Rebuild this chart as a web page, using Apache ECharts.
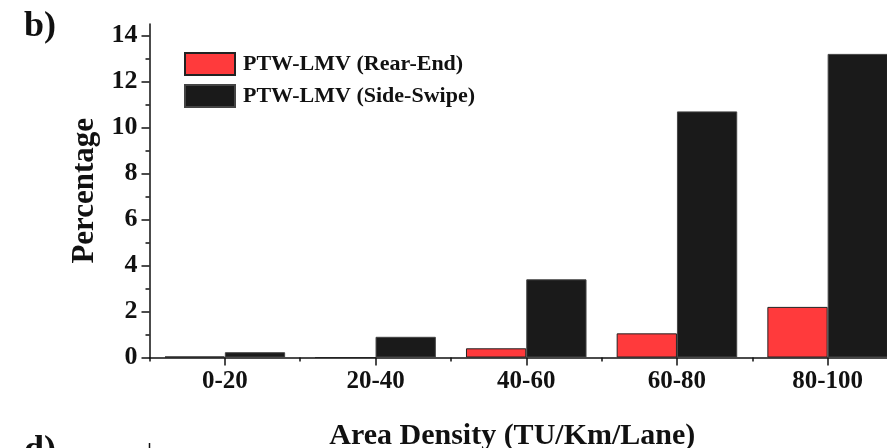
<!DOCTYPE html>
<html>
<head>
<meta charset="utf-8">
<script src="https://cdn.jsdelivr.net/npm/echarts@6/dist/echarts.min.js"></script>
<style>
  html, body { margin: 0; padding: 0; background: #fff; }
  #chart { width: 887px; height: 448px; }
</style>
</head>
<body>
<div id="chart"></div>
<script>
// Area density bins (TU/Km/Lane)
const categories = ['0-20', '20-40', '40-60', '60-80', '80-100'];
// Conflict share (%) for powered two-wheeler vs light motor vehicle interactions
const rearEnd = [0.04, 0, 0.4, 1.05, 2.2];
const sideSwipe = [0.23, 0.9, 3.4, 10.7, 13.2];
// Y-axis labelled ticks and intermediate minor ticks
const majorTicks = [0, 2, 4, 6, 8, 10, 12, 14];
const minorTicks = [1, 3, 5, 7, 9, 11, 13];

const FONT = '"Liberation Serif", "Times New Roman", serif';
const INK = '#111';

const chart = echarts.init(document.getElementById('chart'), null, { renderer: 'canvas' });

chart.setOption({
  backgroundColor: '#fff',
  animation: false,
  grid: {
    left: 149.5, top: 24, width: 753.5, height: 333.5,
    containLabel: false, outerBoundsMode: 'none'
  },
  legend: {
    left: 184, top: 52, orient: 'vertical', padding: 0,
    itemWidth: 50, itemHeight: 22, itemGap: 8,
    icon: 'rect',
    textStyle: { fontFamily: FONT, fontWeight: 'bold', fontSize: 22, color: INK, padding: [0, 0, 0, 3] },
    data: ['PTW-LMV (Rear-End)', 'PTW-LMV (Side-Swipe)']
  },
  xAxis: [
    {
      type: 'category', data: categories,
      name: 'Area Density (TU/Km/Lane)', nameLocation: 'middle', nameGap: 64,
      nameTextStyle: { fontFamily: FONT, fontWeight: 'bold', fontSize: 30, color: INK, padding: [0, 28, 0, 0] },
      axisLine: { show: true, lineStyle: { color: INK, width: 1.5 } },
      axisTick: { show: true, alignWithLabel: true, length: 8, lineStyle: { color: INK, width: 1.5 } },
      axisLabel: { fontFamily: FONT, fontWeight: 'bold', fontSize: 25, color: INK, margin: 12 },
      splitLine: { show: false }
    },
    {
      type: 'category', data: categories, position: 'bottom',
      axisLine: { show: false },
      axisTick: { show: true, alignWithLabel: false, length: 4, lineStyle: { color: INK, width: 1.5 } },
      axisLabel: { show: false },
      splitLine: { show: false }
    }
  ],
  yAxis: [
    {
      type: 'value', min: 0, max: 14.5,
      name: 'Percentage', nameLocation: 'middle', nameGap: 48,
      nameTextStyle: { fontFamily: FONT, fontWeight: 'bold', fontSize: 31, color: INK },
      axisLine: { show: true, lineStyle: { color: INK, width: 1.5 } },
      axisTick: { show: true, length: 8, customValues: majorTicks, lineStyle: { color: INK, width: 1.5 } },
      axisLabel: { fontFamily: FONT, fontWeight: 'bold', fontSize: 26, color: INK, margin: 12, customValues: majorTicks },
      splitLine: { show: false }
    },
    {
      type: 'value', min: 0, max: 14.5, position: 'left',
      axisLine: { show: false },
      axisTick: { show: true, length: 4, customValues: minorTicks, lineStyle: { color: INK, width: 1.5 } },
      axisLabel: { show: false },
      splitLine: { show: false }
    }
  ],
  series: [
    {
      name: 'PTW-LMV (Rear-End)', type: 'bar', data: rearEnd,
      xAxisIndex: 0, yAxisIndex: 0,
      barGap: '0%', barCategoryGap: '20%',
      itemStyle: { color: '#ff3a3c', borderColor: '#222', borderWidth: 1 }
    },
    {
      name: 'PTW-LMV (Side-Swipe)', type: 'bar', data: sideSwipe,
      xAxisIndex: 0, yAxisIndex: 0,
      barGap: '0%', barCategoryGap: '20%',
      itemStyle: { color: '#1a1a1a', borderColor: '#444', borderWidth: 1 }
    }
  ],
  graphic: [
    {
      type: 'text', left: 24, top: 9,
      style: { text: 'b)', fontFamily: FONT, fontWeight: 'bold', fontSize: 36, fill: INK }
    },
    {
      type: 'text', left: 24, top: 433,
      style: { text: 'd)', fontFamily: FONT, fontWeight: 'bold', fontSize: 36, fill: INK }
    },
    {
      type: 'line', shape: { x1: 149.5, y1: 443, x2: 149.5, y2: 448 },
      style: { stroke: INK, lineWidth: 1.5 }
    }
  ]
});
</script>
</body>
</html>
